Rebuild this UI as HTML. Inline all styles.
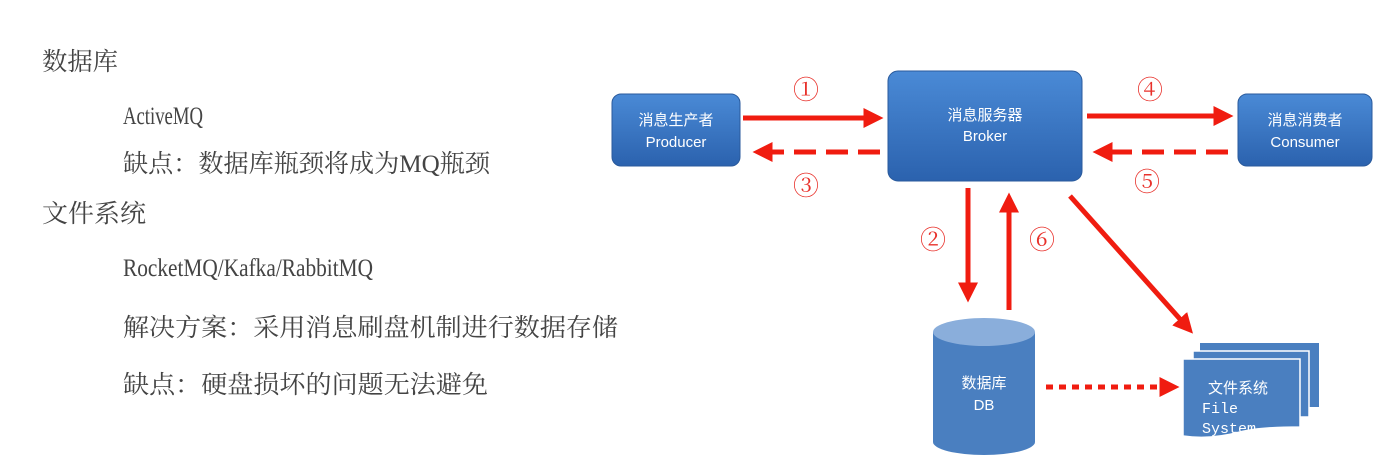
<!DOCTYPE html>
<html><head><meta charset="utf-8"><style>
html,body{margin:0;padding:0;background:#fff;}
svg{display:block}
.t{font-family:"Liberation Serif","Noto Serif CJK SC",serif;fill:#444;font-size:25px}
.w{font-family:"Liberation Sans","Noto Sans CJK SC",sans-serif;fill:#fff;font-size:15px}
.n{font-family:"Liberation Serif","Noto Serif CJK SC",serif;fill:#e8302a;font-size:26px}
</style></head><body>
<svg width="1386" height="465" viewBox="0 0 1386 465" xmlns="http://www.w3.org/2000/svg">
<defs>
<linearGradient id="g" x1="0" y1="0" x2="0" y2="1"><stop offset="0" stop-color="#4a8ad6"/><stop offset="1" stop-color="#2b62ae"/></linearGradient>
<marker id="ah" markerWidth="4" markerHeight="4" refX="2.5" refY="2" orient="auto" markerUnits="strokeWidth"><path d="M0,0 L4,2 L0,4 Z" fill="#f01c10"/></marker>
</defs>
<text class="t" x="42" y="70" textLength="76" lengthAdjust="spacingAndGlyphs">数据库</text>
<text class="t" x="123" y="124" textLength="80" lengthAdjust="spacingAndGlyphs">ActiveMQ</text>
<text class="t" x="123" y="172" textLength="367" lengthAdjust="spacingAndGlyphs">缺点：数据库瓶颈将成为MQ瓶颈</text>
<text class="t" x="42" y="222" textLength="104" lengthAdjust="spacingAndGlyphs">文件系统</text>
<text class="t" x="123" y="276" textLength="250" lengthAdjust="spacingAndGlyphs">RocketMQ/Kafka/RabbitMQ</text>
<text class="t" x="123" y="336" textLength="495" lengthAdjust="spacingAndGlyphs">解决方案：采用消息刷盘机制进行数据存储</text>
<text class="t" x="123" y="393" textLength="365" lengthAdjust="spacingAndGlyphs">缺点：硬盘损坏的问题无法避免</text>

<rect x="612" y="94" width="128" height="72" rx="9" fill="url(#g)" stroke="#2a5a9c"/>
<text class="w" x="676" y="125" text-anchor="middle">消息生产者</text>
<text class="w" x="676" y="147" text-anchor="middle">Producer</text>
<rect x="888" y="71" width="194" height="110" rx="10" fill="url(#g)" stroke="#2a5a9c"/>
<text class="w" x="985" y="120" text-anchor="middle">消息服务器</text>
<text class="w" x="985" y="141" text-anchor="middle">Broker</text>
<rect x="1238" y="94" width="134" height="72" rx="9" fill="url(#g)" stroke="#2a5a9c"/>
<text class="w" x="1305" y="125" text-anchor="middle">消息消费者</text>
<text class="w" x="1305" y="147" text-anchor="middle">Consumer</text>

<g stroke="#f01c10" stroke-width="5" fill="none">
<line x1="743" y1="118" x2="876" y2="118" marker-end="url(#ah)"/>
<line x1="880" y1="152" x2="760" y2="152" stroke-dasharray="22,10" marker-end="url(#ah)"/>
<line x1="1087" y1="116" x2="1226" y2="116" marker-end="url(#ah)"/>
<line x1="1228" y1="152" x2="1100" y2="152" stroke-dasharray="22,10" marker-end="url(#ah)"/>
<line x1="968" y1="188" x2="968" y2="295" marker-end="url(#ah)"/>
<line x1="1009" y1="310" x2="1009" y2="200" marker-end="url(#ah)"/>
<line x1="1070" y1="196" x2="1188" y2="328" marker-end="url(#ah)"/>
<line x1="1046" y1="387" x2="1172" y2="387" stroke-dasharray="7,6" marker-end="url(#ah)"/>
</g>
<text class="n" x="806" y="99" text-anchor="middle">①</text>
<text class="n" x="806" y="195" text-anchor="middle">③</text>
<text class="n" x="1150" y="99" text-anchor="middle">④</text>
<text class="n" x="1147" y="191" text-anchor="middle">⑤</text>
<text class="n" x="933" y="249" text-anchor="middle">②</text>
<text class="n" x="1042" y="249" text-anchor="middle">⑥</text>

<path d="M933,332 L933,442 A51,13 0 0 0 1035,442 L1035,332 Z" fill="#4a7fc0"/>
<ellipse cx="984" cy="332" rx="51" ry="14" fill="#8aaedb"/>
<text class="w" x="984" y="388" text-anchor="middle" font-size="16">数据库</text>
<text class="w" x="984" y="410" text-anchor="middle" font-size="16">DB</text>

<rect x="1200" y="343" width="119" height="64" fill="#4a7fc0"/>
<rect x="1193" y="351" width="116" height="66" fill="#4a7fc0" stroke="#fff" stroke-width="1.5"/>
<path d="M1183,359 L1300,359 L1300,427 Q1260,427 1240,432 Q1210,440 1183,436 Z" fill="#4a7fc0" stroke="#fff" stroke-width="1.5"/>
<text class="w" x="1208" y="393" font-size="16">文件系统</text>
<text class="w" x="1202" y="413" style="font-family:'Liberation Mono',monospace">File</text>
<text class="w" x="1202" y="433" style="font-family:'Liberation Mono',monospace">System</text>
</svg>
</body></html>
